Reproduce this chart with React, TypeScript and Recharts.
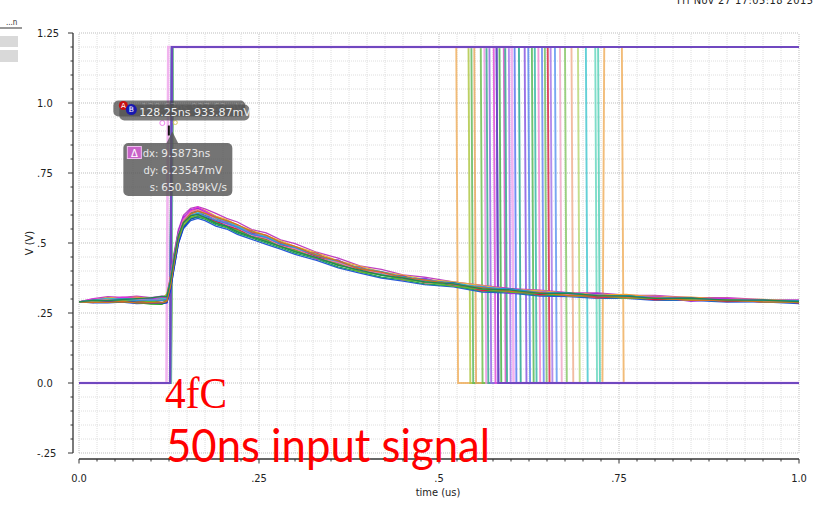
import React from 'react';
import { LineChart, Line, XAxis, YAxis, ReferenceLine, ReferenceDot } from 'recharts';

const W = 818;
const H = 505;
const axisFont = 'DejaVu Sans Condensed, DejaVu Sans, sans-serif';

// sample times (us) of the shaper output
const timeUs = [
  0, 0.02, 0.04, 0.06, 0.08, 0.1, 0.115, 0.122, 0.127, 0.132,
  0.138, 0.145, 0.155, 0.165, 0.175, 0.19, 0.205, 0.22, 0.24, 0.26,
  0.28, 0.3, 0.33, 0.36, 0.39, 0.42, 0.45, 0.48, 0.52, 0.56,
  0.6, 0.64, 0.68, 0.72, 0.76, 0.8, 0.85, 0.9, 0.95, 1.0,
];

// monte carlo runs, shaper output (V)
const run01 = [.290,.297,.305,.303,.307,.300,.305,.306,.375,.454, .535,.584,.612,.619,.608,.594,.574,.562,.534,.524, .497,.486,.454,.435,.406,.396,.373,.369,.355,.336, .334,.322,.322,.314,.316,.307,.307,.299,.299,.292];
const run02 = [.290,.290,.295,.299,.292,.293,.300,.318,.370,.446, .523,.569,.594,.604,.590,.575,.557,.546,.521,.511, .486,.475,.445,.426,.399,.391,.370,.364,.348,.339, .326,.323,.311,.313,.302,.304,.296,.300,.292,.292];
const run03 = [.290,.289,.289,.292,.287,.282,.281,.290,.340,.418, .507,.559,.590,.597,.590,.570,.560,.541,.524,.505, .490,.469,.449,.421,.405,.384,.377,.360,.356,.335, .332,.318,.321,.311,.312,.301,.302,.293,.295,.288];
const run04 = [.290,.298,.298,.304,.299,.303,.301,.303,.366,.448, .532,.581,.607,.614,.606,.585,.575,.554,.536,.516, .499,.478,.458,.427,.409,.388,.380,.363,.358,.337, .336,.322,.322,.311,.312,.302,.303,.294,.296,.289];
const run05 = [.290,.295,.302,.298,.300,.302,.302,.304,.372,.454, .537,.589,.618,.624,.612,.592,.576,.557,.538,.518, .500,.479,.457,.428,.409,.389,.378,.365,.356,.339, .334,.322,.319,.311,.310,.303,.303,.297,.296,.290];
const run06 = [.290,.300,.299,.307,.302,.297,.306,.305,.368,.450, .533,.587,.616,.628,.614,.590,.572,.561,.532,.522, .494,.483,.450,.432,.404,.396,.375,.369,.349,.340, .327,.324,.312,.314,.305,.308,.298,.302,.293,.294];
const run07 = [.290,.291,.291,.294,.289,.285,.285,.286,.332,.410, .499,.555,.586,.596,.592,.577,.565,.546,.528,.510, .490,.476,.446,.425,.401,.390,.373,.367,.348,.339, .324,.321,.313,.314,.304,.305,.297,.299,.290,.290];
const run08 = [.290,.294,.293,.299,.294,.289,.294,.295,.352,.434, .521,.573,.599,.605,.598,.576,.567,.547,.531,.511, .496,.475,.453,.424,.408,.388,.376,.361,.354,.332, .328,.317,.317,.309,.306,.299,.300,.293,.293,.287];
const run09 = [.290,.296,.302,.299,.301,.296,.301,.302,.364,.442, .526,.578,.604,.611,.604,.589,.578,.559,.541,.521, .503,.481,.459,.429,.411,.389,.378,.362,.354,.343, .330,.325,.314,.315,.307,.306,.297,.298,.292,.293];
const run10 = [.290,.292,.299,.295,.297,.299,.296,.302,.362,.444, .531,.583,.611,.620,.608,.584,.566,.555,.527,.517, .490,.479,.447,.430,.402,.393,.373,.368,.351,.340, .329,.325,.315,.314,.305,.305,.296,.297,.291,.290];
const run11 = [.290,.290,.296,.293,.295,.290,.295,.296,.348,.426, .511,.562,.590,.598,.589,.573,.558,.545,.522,.510, .487,.474,.446,.425,.397,.386,.368,.361,.346,.335, .324,.320,.312,.312,.303,.302,.297,.298,.290,.289];
const run12 = [.290,.295,.294,.300,.295,.297,.295,.300,.362,.440, .524,.573,.599,.606,.597,.581,.570,.556,.531,.520, .496,.484,.455,.435,.409,.398,.378,.370,.353,.341, .335,.323,.321,.312,.311,.303,.302,.295,.295,.294];
const run13 = [.290,.288,.288,.291,.286,.287,.286,.291,.345,.430, .520,.574,.604,.614,.606,.592,.580,.566,.540,.528, .502,.488,.457,.436,.408,.396,.376,.368,.351,.340, .327,.323,.312,.313,.305,.304,.295,.296,.290,.289];
const run14 = [.290,.296,.294,.298,.301,.304,.309,.308,.365,.443, .526,.573,.597,.602,.591,.571,.559,.540,.522,.505, .488,.469,.448,.421,.403,.385,.375,.361,.354,.336, .332,.320,.320,.312,.310,.302,.303,.296,.296,.291];
const run15 = [.290,.301,.308,.306,.310,.305,.310,.310,.382,.464, .547,.599,.624,.630,.622,.606,.588,.575,.548,.536, .511,.498,.467,.446,.418,.406,.386,.378,.361,.349, .337,.332,.323,.322,.314,.313,.305,.305,.298,.297];
const run16 = [.290,.286,.286,.289,.284,.285,.283,.288,.330,.408, .497,.551,.580,.588,.580,.560,.550,.531,.513,.495, .478,.459,.438,.411,.392,.375,.364,.351,.343,.325, .321,.310,.309,.302,.302,.295,.295,.289,.290,.284];
const run17 = [.290,.298,.298,.305,.300,.305,.303,.309,.378,.456, .539,.587,.615,.625,.617,.596,.584,.564,.545,.526, .508,.488,.465,.436,.417,.397,.385,.370,.361,.348, .333,.330,.319,.319,.309,.310,.300,.302,.293,.294];
const run18 = [.290,.289,.288,.292,.287,.289,.287,.293,.346,.424, .507,.556,.585,.592,.585,.566,.555,.535,.518,.500, .483,.464,.443,.415,.397,.378,.368,.354,.346,.328, .324,.313,.313,.305,.306,.298,.299,.292,.294,.287];
const run19 = [.290,.296,.290,.303,.292,.303,.294,.305,.370,.452, .541,.593,.610,.614,.598,.588,.564,.560,.524,.525, .486,.484,.442,.440,.399,.394,.367,.374,.346,.345, .319,.327,.312,.320,.302,.309,.292,.301,.288,.293];
const run20 = [.290,.287,.300,.289,.302,.291,.299,.290,.340,.428, .519,.577,.610,.622,.610,.584,.580,.550,.544,.511, .504,.472,.464,.420,.415,.386,.383,.358,.358,.329, .337,.315,.320,.303,.313,.297,.303,.291,.298,.286];

const shaperRuns = [
  run15, run16, run17, run18, run19, run20,
  run01, run02, run03, run04, run05, run06, run07, run08, run09, run10, run11, run12, run13, run14,
];
const shaperColors = [
  '#c040c0', '#2858d8', '#e8b040', '#20a060', '#a030e0', '#e04060',
  '#f0a030', '#a0c828', '#28a828', '#109880', '#8030d8', '#e030e0', '#1030e0',
  '#e01040', '#30c8c0', '#f070b0', '#60b830', '#3090e0', '#d07020', '#208850',
];

// comparator output edge times (us), alternating rise / fall
const comparatorEdges = [
  [0.1262, 0.524, 0.727, 0.754], [0.127, 0.541], [0.1266, 0.545], [0.1272, 0.549],
  [0.1264, 0.558], [0.1268, 0.563], [0.1274, 0.566], [0.1266, 0.57],
  [0.127, 0.576], [0.1262, 0.58], [0.1276, 0.584], [0.1268, 0.59],
  [0.1272, 0.592], [0.1266, 0.597], [0.1215, 0.601], [0.127, 0.605],
  [0.1274, 0.611], [0.1268, 0.619], [0.1264, 0.624], [0.1278, 0.629],
  [0.127, 0.633], [0.1266, 0.638], [0.1272, 0.643], [0.128, 0.647],
  [0.1268, 0.651], [0.1274, 0.655], [0.1266, 0.661], [0.127, 0.668],
  [0.1276, 0.675], [0.1268, 0.684], [0.1272, 0.693], [0.1264, 0.704],
  [0.127, 0.717], [0.1274, 0.721], [0.1268, 0.58], [0.1265],
];
const comparatorColors = [
  '#f0b060', '#b0c848', '#60b860', '#e8a860', '#70c050', '#ec98e4', '#38a890', '#9868e8',
  '#e050d8', '#4868ec', '#48b048', '#d858c8', '#30a890', '#a878f0', '#f0a8ec', '#5878f0',
  '#28a890', '#8858e0', '#5888ec', '#58b858', '#38b8a8', '#f088d0', '#6888f0', '#78c068',
  '#d82848', '#a878e8', '#6098f0', '#f0a8c8', '#88c868', '#f0b090', '#b8d878', '#48c8d0',
  '#68d8c0', '#58d0b8', '#7048c0', '#7048c0',
];
const comparatorHigh = 1.2;
const edgeWidth = 0.0025;

const xMajorTicks = [0, 0.25, 0.5, 0.75, 1];
const xMajorLabels = ['0.0', '.25', '.5', '.75', '1.0'];
const yMajorTicks = [-0.25, 0, 0.25, 0.5, 0.75, 1, 1.25];
const yMajorLabels = ['-.25', '0.0', '.25', '.5', '.75', '1.0', '1.25'];
const xMinorTicks = Array.from({ length: 41 }, (_, i) => i / 40);
const yMinorTicks = Array.from({ length: 31 }, (_, i) => (i - 5) / 20);

// axes sit 6px outside the grid, so the domain is stretched a little
const xMin = -6 / 720;
const yMin = -0.25 - 6 / 280;

const cursorB = { t: 0.12825, v: 0.93387 };
const cursorText = '128.25ns 933.87mV';
const cursorGhost = '128.63ns 927.63mV';
const deltaRows = [
  ['dx:', '9.5873ns'],
  ['dy:', '6.23547mV'],
  ['s:', '650.389kV/s'],
];

const shaperData = shaperRuns.map((run) => timeUs.map((t, i) => ({ t, v: run[i] })));

const comparatorData = comparatorEdges.map((edges) => {
  const pts = [{ t: 0, v: 0 }];
  let level = 0;
  edges.forEach((e) => {
    pts.push({ t: e, v: level });
    level = level === 0 ? comparatorHigh : 0;
    pts.push({ t: e + edgeWidth, v: level });
  });
  pts.push({ t: 1, v: level });
  return pts;
});

const findMajor = (list: number[], v: number) => list.findIndex((m) => Math.abs(m - v) < 1e-6);

const XTick = ({ x, y, payload }: any) => {
  const i = findMajor(xMajorTicks, payload.value);
  return (
    <g>
      <line x1={x} y1={y} x2={x} y2={y + (i >= 0 ? 4.5 : 2.5)} stroke="#333" />
      {i >= 0 && (
        <text x={x} y={y + 23} textAnchor="middle" fontSize={11} fill="#222" fontFamily={axisFont}>
          {xMajorLabels[i]}
        </text>
      )}
    </g>
  );
};

const YTick = ({ x, y, payload }: any) => {
  const i = findMajor(yMajorTicks, payload.value);
  return (
    <g>
      <line x1={x - (i >= 0 ? 5 : 2.5)} y1={y} x2={x} y2={y} stroke="#333" />
      {i >= 0 && (
        <text x={x - 36} y={y} dy="0.36em" textAnchor="start" fontSize={11} fill="#222" fontFamily={axisFont}>
          {yMajorLabels[i]}
        </text>
      )}
    </g>
  );
};

const CursorReadout = (props: any) => {
  const { cx, cy } = props;
  if (cx == null || cy == null) return null;
  return (
    <g fontFamily="DejaVu Sans, sans-serif">
      <circle cx={cx - 9} cy={cy + 1.5} r={2.5} fill="none" stroke="#f080f0" />
      <circle cx={cx + 4} cy={cy + 1} r={2} fill="none" stroke="#d8c860" />
      <line x1={cx - 2.5} y1={cy + 4} x2={cx - 2.5} y2={cy + 14} stroke="#111" strokeWidth={2} />
      <rect x={cx - 58} y={cy - 21} width={132} height={16} rx={5} fill="rgba(70,70,70,0.72)" />
      <text x={cx - 30} y={cy - 10.5} fontSize={10} fill="rgba(215,215,215,0.3)">{cursorGhost}</text>
      <rect x={cx - 52} y={cy - 17} width={130} height={16} rx={5} fill="rgba(80,80,80,0.75)" />
      <text x={cx - 32} y={cy - 5.5} fontSize={11} fill="#f0f0f0">{cursorText}</text>
      <circle cx={cx - 48} cy={cy - 16} r={4.5} fill="#c81010" />
      <text x={cx - 48} y={cy - 13.5} fontSize={7} fill="#fff" textAnchor="middle">A</text>
      <circle cx={cx - 40} cy={cy - 12} r={5.5} fill="#1818b0" />
      <text x={cx - 40} y={cy - 9.5} fontSize={7.5} fill="#fff" textAnchor="middle">B</text>
      <polygon points={`${cx - 5},${cy + 22} ${cx + 7},${cy + 22} ${cx + 1},${cy + 10}`} fill="rgba(85,85,85,0.82)" />
      <rect x={cx - 48} y={cy + 21.5} width={109} height={53} rx={5} fill="rgba(85,85,85,0.82)" />
      <rect x={cx - 44} y={cy + 25} width={14} height={12} fill="#c863c8" stroke="#f0c0f0" />
      <text x={cx - 37} y={cy + 35} fontSize={10} fill="#fff" textAnchor="middle">Δ</text>
      {deltaRows.map(([k, v], i) => (
        <g key={k}>
          <text x={cx - 13} y={cy + 35 + i * 17} fontSize={10} fill="#e8e8e8" textAnchor="end">{k}</text>
          <text x={cx - 10} y={cy + 35 + i * 17} fontSize={10.5} fill="#e8e8e8">{v}</text>
        </g>
      ))}
    </g>
  );
};

export default function App() {
  return (
    <div style={{ position: 'absolute', left: 0, top: 0, width: W, height: H, background: '#fff' }}>
      <LineChart width={W} height={H} margin={{ top: 33, right: 19, left: 8, bottom: 6 }}>
        <XAxis
          type="number"
          dataKey="t"
          domain={[xMin, 1]}
          allowDataOverflow
          ticks={xMinorTicks}
          interval={0}
          tick={XTick}
          tickSize={0}
          tickMargin={0}
          tickLine={false}
          axisLine={false}
          height={40}
        />
        <YAxis
          type="number"
          domain={[yMin, 1.25]}
          allowDataOverflow
          ticks={yMinorTicks}
          interval={0}
          tick={YTick}
          tickSize={0}
          tickMargin={0}
          tickLine={false}
          axisLine={false}
          width={65}
        />
        {/* grid: light every minor tick, darker every major tick */}
        {xMinorTicks.map((v) => (
          <ReferenceLine
            key={'gx' + v}
            segment={[{ x: v, y: -0.25 }, { x: v, y: 1.25 }]}
            stroke={findMajor(xMajorTicks, v) >= 0 ? '#bdbdbd' : '#dedede'}
            strokeDasharray="1 1"
            ifOverflow="visible"
          />
        ))}
        {yMinorTicks.map((v) => (
          <ReferenceLine
            key={'gy' + v}
            segment={[{ x: 0, y: v }, { x: 1, y: v }]}
            stroke={findMajor(yMajorTicks, v) >= 0 ? '#bdbdbd' : '#dedede'}
            strokeDasharray="1 1"
            ifOverflow="visible"
          />
        ))}
        <ReferenceLine segment={[{ x: 0, y: yMin }, { x: 1, y: yMin }]} stroke="#333" strokeWidth={1.3} ifOverflow="visible" />
        <ReferenceLine segment={[{ x: xMin, y: -0.25 }, { x: xMin, y: 1.25 }]} stroke="#333" strokeWidth={1.3} ifOverflow="visible" />
        {comparatorData.map((d, i) => (
          <Line
            key={'cmp' + i}
            data={d}
            dataKey="v"
            type="linear"
            stroke={comparatorColors[i]}
            strokeWidth={i === 14 ? 2.6 : 1.9}
            strokeOpacity={i >= 34 ? 1 : 0.85}
            dot={false}
            isAnimationActive={false}
          />
        ))}
        {shaperData.map((d, i) => (
          <Line
            key={'run' + i}
            data={d}
            dataKey="v"
            type="linear"
            stroke={shaperColors[i]}
            strokeWidth={1.3}
            dot={false}
            isAnimationActive={false}
          />
        ))}
        <ReferenceDot x={cursorB.t} y={cursorB.v} r={0} shape={CursorReadout} ifOverflow="visible" />
      </LineChart>
      <svg width={W} height={H} style={{ position: 'absolute', left: 0, top: 0, pointerEvents: 'none' }}>
        <text x={677} y={4} fontSize={11} fill="#222" fontFamily={axisFont} textLength={136}>Fri Nov 27 17:05:18 2015</text>
        <text x={6} y={25} fontSize={8} fill="#333" fontFamily={axisFont}>...n</text>
        <line x1={0} y1={28} x2={22} y2={28} stroke="#333" />
        <rect x={0} y={36} width={18} height={11} fill="#d9d9d9" />
        <rect x={0} y={50} width={18} height={12} fill="#d9d9d9" />
        <text x={33} y={243} fontSize={11} fill="#222" fontFamily={axisFont} textAnchor="middle" transform="rotate(-90 33 243)">V (V)</text>
        <text x={438} y={496} fontSize={11} fill="#222" fontFamily={axisFont} textAnchor="middle">time (us)</text>
        <text x={165} y={408} fontSize={44} fill="#ff0000" fontFamily="Liberation Serif, serif" textLength={62} lengthAdjust="spacingAndGlyphs">4fC</text>
        <text x={166} y={462} fontSize={47} fill="#ff0000" fontFamily="Lato, Open Sans, sans-serif" textLength={324} lengthAdjust="spacingAndGlyphs">50ns input signal</text>
      </svg>
    </div>
  );
}
